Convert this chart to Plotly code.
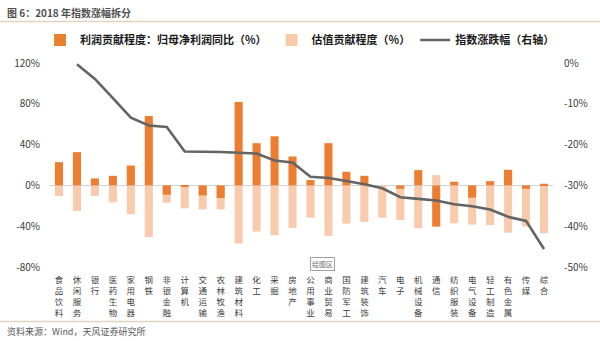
import plotly.graph_objects as go

categories = ["食品饮料", "休闲服务", "银行", "医药生物", "家用电器", "钢铁", "非银金融",
              "计算机", "交通运输", "农林牧渔", "建筑材料", "化工", "采掘", "房地产",
              "公用事业", "商业贸易", "国防军工", "建筑装饰", "汽车", "电子", "机械设备",
              "通信", "纺织服装", "电气设备", "轻工制造", "有色金属", "传媒", "综合"]

profit_contrib = [22.8, 32.6, 6.8, 9.4, 19.5, 68.0, -9.1, -1.6, -9.8, -12.4, 81.8, 41.4,
                  48.2, 28.3, 5.2, 41.4, 13.4, 9.4, 0.0, -3.3, 15.0, -40.4, 3.6, -12.0,
                  4.2, 15.3, -3.3, 1.6]

valuation_contrib = [-10.4, -25.0, -10.4, -16.6, -28.3, -50.5, -17.0, -22.5, -23.5, -23.5,
                     -57.0, -45.3, -48.9, -41.7, -31.6, -49.5, -37.5, -35.8, -31.6, -33.9,
                     -42.0, 10.1, -37.1, -38.4, -38.8, -46.3, -40.4, -46.9]

# index change (right axis); the series in the original starts one category late
index_change = [None, -0.3, -3.9, -8.6, -13.4, -15.3, -15.7, -21.7, -21.7, -21.8, -22.0,
                -22.2, -23.9, -24.4, -27.9, -28.2, -28.9, -29.7, -30.7, -32.9, -33.3,
                -33.7, -34.6, -35.1, -35.9, -37.7, -38.7, -45.6]

left_ticks = [120, 80, 40, 0, -40, -80]
right_ticks = [0, -10, -20, -30, -40, -50]

FONT = "Noto Sans CJK SC"
W, H = 600, 341
ML, MR, MT, MB = 50, 47, 63, 74
PW, PH = W - ML - MR, H - MT - MB


def px_x(px):
    return (px - ML) / PW


def px_y(py):
    return (H - MB - py) / PH


tick_text = ["<br>".join(list(c)) for c in categories]

fig = go.Figure()
fig.add_trace(go.Bar(
    x=categories, y=valuation_contrib, name="估值贡献程度（%）",
    marker=dict(color="#F8CBAD", line=dict(width=0)), width=0.45,
    legendrank=2,
))
fig.add_trace(go.Bar(
    x=categories, y=profit_contrib, name="利润贡献程度：归母净利润同比（%）",
    marker=dict(color="#ED7D31", line=dict(width=0)), width=0.45,
    legendrank=1,
))
fig.add_trace(go.Scatter(
    x=categories, y=index_change, name="指数涨跌幅（右轴）", yaxis="y2",
    mode="lines", line=dict(color="#646464", width=2.6), connectgaps=False,
    legendrank=3,
))

fig.update_layout(
    width=W, height=H,
    margin=dict(l=ML, r=MR, t=MT, b=MB, pad=0),
    paper_bgcolor="white", plot_bgcolor="white",
    barmode="overlay",
    font=dict(family=FONT, size=10, color="#404040"),
    showlegend=True,
    legend=dict(
        orientation="h", x=px_x(40), y=px_y(40), xanchor="left", yanchor="middle",
        font=dict(family=FONT, size=11, color="#1a1a1a", weight="bold"),
        itemwidth=30, traceorder="normal", bgcolor="rgba(0,0,0,0)",
    ),
    xaxis=dict(
        type="category", tickmode="array", tickvals=categories, ticktext=tick_text,
        tickangle=0, tickfont=dict(size=8.5, color="#404040"),
        showline=False, showgrid=False, ticks="outside", ticklen=5,
        tickcolor="rgba(0,0,0,0)", range=[-0.5, len(categories) - 0.5],
    ),
    yaxis=dict(
        range=[-80, 120], tickmode="array", tickvals=left_ticks,
        ticktext=[f"{v}%" for v in left_ticks], showgrid=False, showline=False,
        zeroline=True, zerolinecolor="#C9D6E8", zerolinewidth=1,
        ticks="outside", ticklen=7, tickcolor="rgba(0,0,0,0)",
        tickfont=dict(size=10, color="#404040"),
    ),
    yaxis2=dict(
        range=[-50, 0], overlaying="y", side="right", tickmode="array",
        tickvals=right_ticks, ticktext=[f"{v}%" for v in right_ticks],
        showgrid=False, showline=False, zeroline=False,
        ticks="outside", ticklen=8, tickcolor="rgba(0,0,0,0)",
        tickfont=dict(size=10, color="#404040"),
    ),
    shapes=[
        dict(type="line", xref="paper", yref="paper", x0=px_x(0), x1=px_x(600),
             y0=px_y(21.5), y1=px_y(21.5), line=dict(color="#E6D2B8", width=1.5)),
        dict(type="line", xref="paper", yref="paper", x0=px_x(0), x1=px_x(600),
             y0=px_y(321.5), y1=px_y(321.5), line=dict(color="#E0D4C2", width=1.5)),
    ],
    annotations=[
        dict(text="<b>图 6：2018 年指数涨幅拆分</b>", xref="paper", yref="paper",
             x=px_x(5), y=px_y(12), xanchor="left", yanchor="middle", showarrow=False,
             font=dict(family=FONT, size=10, color="#505050")),
        dict(text="资料来源：Wind，天风证券研究所", xref="paper", yref="paper",
             x=px_x(5), y=px_y(331), xanchor="left", yanchor="middle", showarrow=False,
             font=dict(family=FONT, size=9, color="#595959")),
        dict(text="绘图区", xref="paper", yref="paper",
             x=px_x(322), y=px_y(264), xanchor="center", yanchor="middle", showarrow=False,
             font=dict(family=FONT, size=7, color="#707070"),
             bgcolor="white", bordercolor="#A0A0A0", borderwidth=1, borderpad=1),
    ],
)

fig.write_html("out.html")
